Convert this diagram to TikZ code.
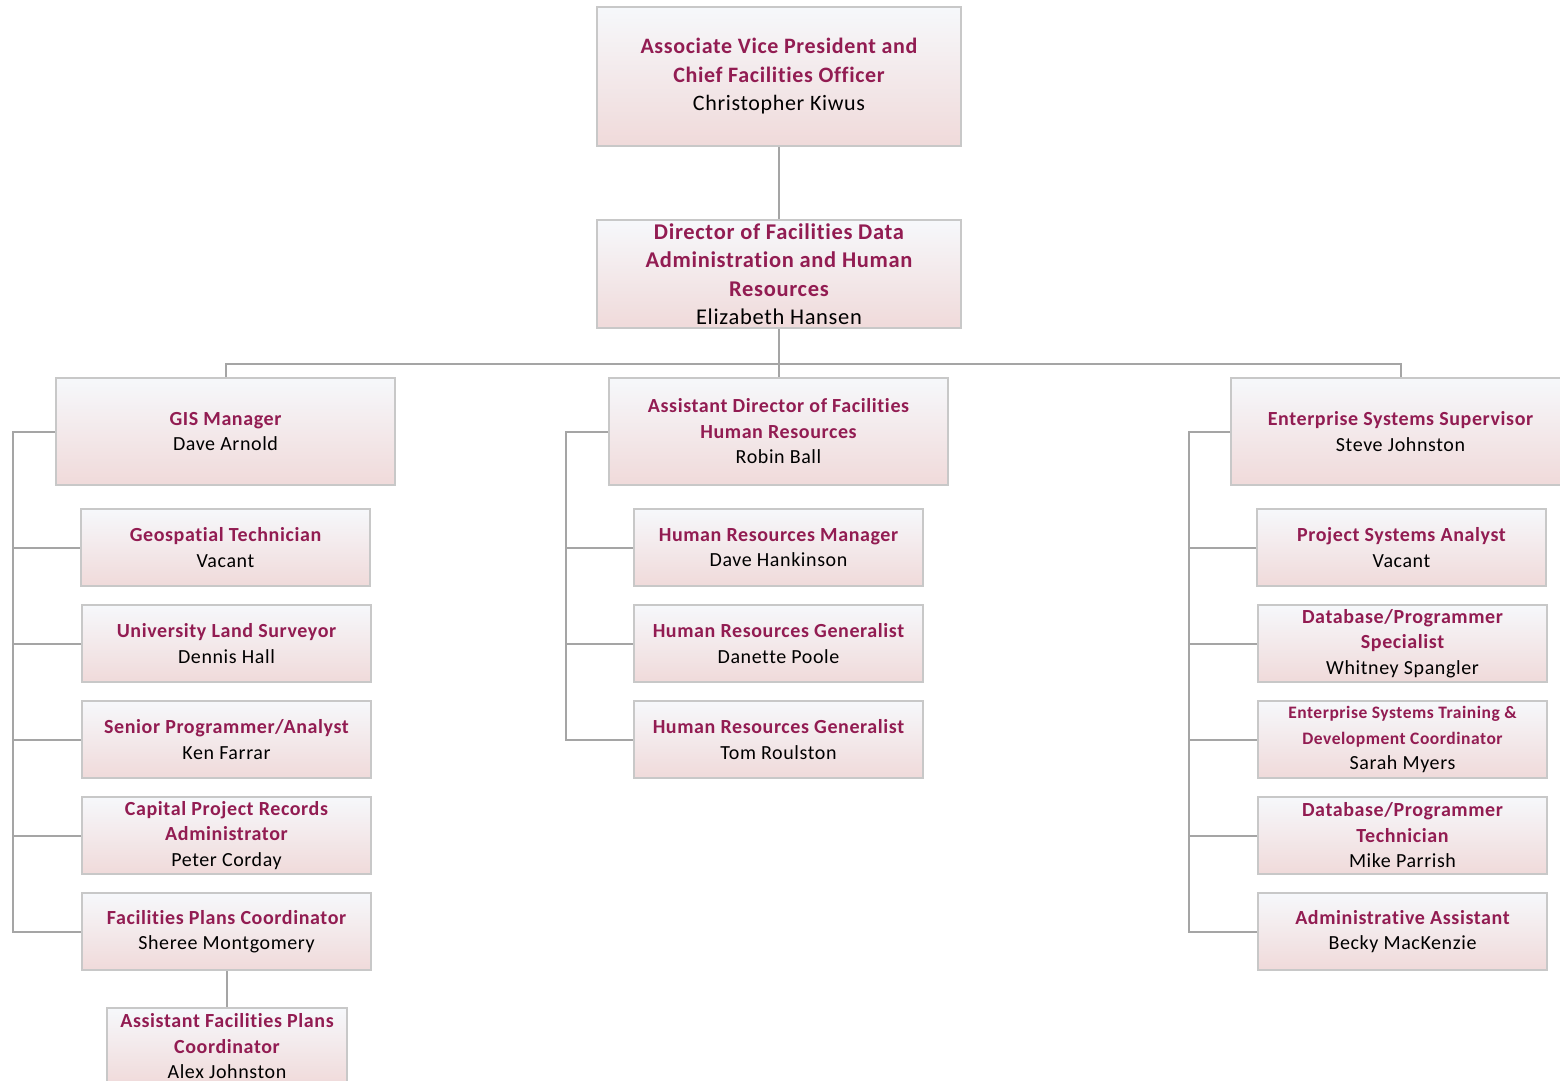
\documentclass[tikz,border=0pt]{standalone}
\usepackage{fontspec}
\setmainfont{Carlito}[LetterSpace=3,Ligatures=NoCommon]
\definecolor{ttl}{RGB}{146,28,82}
\definecolor{bord}{RGB}{200,200,200}
\definecolor{conn}{RGB}{165,165,165}
\definecolor{topc}{RGB}{246,248,251}
\definecolor{botc}{RGB}{240,218,218}
\tikzset{
  orgbox/.style={draw=bord, line width=2pt, rectangle, inner sep=0pt,
    top color=topc, bottom color=botc, align=center, anchor=north west,
    font=\fontsize{20}{25.5}\selectfont},
  conline/.style={draw=conn, line width=2pt}
}
\newcommand{\ttlx}[1]{{\color{ttl}\bfseries #1}}
\newcommand{\smttl}[1]{{\fontsize{17.5}{23}\selectfont\color{ttl}\bfseries #1}}
\begin{document}
\begin{tikzpicture}[x=1pt,y=-1pt]
\useasboundingbox (0,0) rectangle (1560,1081);
% top
\node[orgbox, minimum width=364, minimum height=139, font=\fontsize{22}{28.5}\selectfont] (avp) at (596,6)
  {\ttlx{Associate Vice President and}\\\ttlx{Chief Facilities Officer}\\Christopher Kiwus};
\node[orgbox, minimum width=364, minimum height=108, font=\fontsize{22.5}{28.5}\selectfont] (dir) at (596,219)
  {\ttlx{Director of Facilities Data}\\\ttlx{Administration and Human}\\\ttlx{Resources}\\Elizabeth Hansen};
% level 2
\node[orgbox, minimum width=339, minimum height=107] (gis) at (55,377)
  {\ttlx{GIS Manager}\\Dave Arnold};
\node[orgbox, minimum width=339, minimum height=107] (ahr) at (608,377)
  {\ttlx{Assistant Director of Facilities}\\\ttlx{Human Resources}\\Robin Ball};
\node[orgbox, minimum width=339, minimum height=107] (ess) at (1230,377)
  {\ttlx{Enterprise Systems Supervisor}\\Steve Johnston};
% left children
\node[orgbox, minimum width=289, minimum height=77] (geo) at (80,508)
  {\ttlx{Geospatial Technician}\\Vacant};
\node[orgbox, minimum width=289, minimum height=77] (uls) at (81,604)
  {\ttlx{University Land Surveyor}\\Dennis Hall};
\node[orgbox, minimum width=289, minimum height=77] (spa) at (81,700)
  {\ttlx{Senior Programmer/Analyst}\\Ken Farrar};
\node[orgbox, minimum width=289, minimum height=77] (cpr) at (81,796)
  {\ttlx{Capital Project Records}\\\ttlx{Administrator}\\Peter Corday};
\node[orgbox, minimum width=289, minimum height=77] (fpc) at (81,892)
  {\ttlx{Facilities Plans Coordinator}\\Sheree Montgomery};
\node[orgbox, minimum width=240, minimum height=77] (afp) at (106,1007)
  {\ttlx{Assistant Facilities Plans}\\\ttlx{Coordinator}\\Alex Johnston};
% middle children
\node[orgbox, minimum width=289, minimum height=77] (hrm) at (633,508)
  {\ttlx{Human Resources Manager}\\Dave Hankinson};
\node[orgbox, minimum width=289, minimum height=77] (hg1) at (633,604)
  {\ttlx{Human Resources Generalist}\\Danette Poole};
\node[orgbox, minimum width=289, minimum height=77] (hg2) at (633,700)
  {\ttlx{Human Resources Generalist}\\Tom Roulston};
% right children
\node[orgbox, minimum width=289, minimum height=77] (psa) at (1256,508)
  {\ttlx{Project Systems Analyst}\\Vacant};
\node[orgbox, minimum width=289, minimum height=77] (dps) at (1257,604)
  {\ttlx{Database/Programmer}\\\ttlx{Specialist}\\Whitney Spangler};
\node[orgbox, minimum width=289, minimum height=77] (etd) at (1257,700)
  {\smttl{Enterprise Systems Training \&}\\\smttl{Development Coordinator}\\Sarah Myers};
\node[orgbox, minimum width=289, minimum height=77] (dpt) at (1257,796)
  {\ttlx{Database/Programmer}\\\ttlx{Technician}\\Mike Parrish};
\node[orgbox, minimum width=289, minimum height=77] (adm) at (1257,892)
  {\ttlx{Administrative Assistant}\\Becky MacKenzie};
% connectors
\draw[conline] (avp.south) -- (dir.north);
\draw[conline] (dir.south) -- ++(0,35) coordinate (bus);
\draw[conline] (gis.north) |- (bus) -| (ess.north);
\draw[conline] (ahr.north |- bus) -- (ahr.north);
\draw[conline] (gis.west) -- ++(-42,0) coordinate (lb) |- (fpc.west);
\foreach \n in {geo,uls,spa,cpr} \draw[conline] (lb |- \n.west) -- (\n.west);
\draw[conline] (ahr.west) -- ++(-42,0) coordinate (mb) |- (hg2.west);
\foreach \n in {hrm,hg1} \draw[conline] (mb |- \n.west) -- (\n.west);
\draw[conline] (ess.west) -- ++(-41,0) coordinate (rb) |- (adm.west);
\foreach \n in {psa,dps,etd,dpt} \draw[conline] (rb |- \n.west) -- (\n.west);
\draw[conline] (afp.north |- fpc.south) -- (afp.north);
\end{tikzpicture}
\end{document}
